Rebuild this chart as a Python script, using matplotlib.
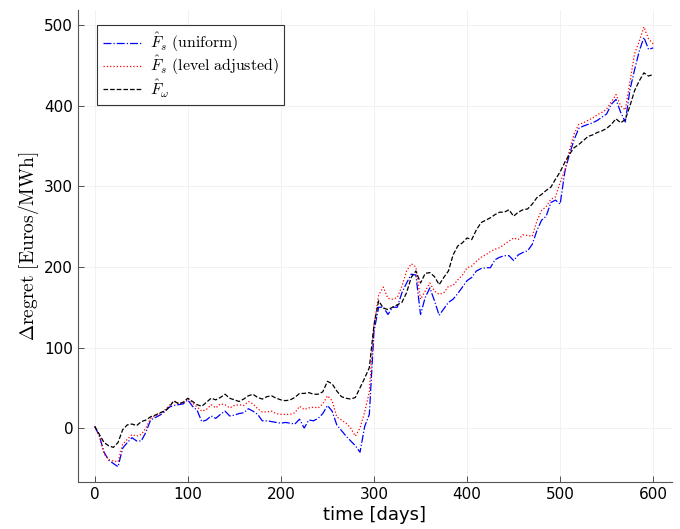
import numpy as np
import matplotlib
matplotlib.use('Agg')
import matplotlib.pyplot as plt

plt.rcParams['mathtext.fontset'] = 'cm'

# values read every 5 days
days = np.arange(0, 601, 5)

regret_uniform = [
    2, -10, -30, -40, -44, -48, -25, -18, -12, -16, -16, -5, 10, 13, 16, 20,
    26, 28, 29, 30, 35, 27, 22, 8, 10, 15, 12, 17, 21, 15, 16, 18, 19, 24, 21,
    17, 9, 9, 8, 7, 6, 7, 6, 5, 11, 0, 10, 9, 12, 18, 28, 21, 4, -3, -10, -16,
    -22, -30, 2, 17, 120, 150, 150, 141, 150, 150, 168, 180, 191, 190, 141,
    162, 174, 158, 140, 148, 156, 160, 167, 175, 183, 187, 195, 198, 199, 199,
    209, 212, 214, 214, 208, 215, 218, 220, 228, 245, 258, 263, 280, 283, 278,
    318, 340, 358, 372, 375, 377, 379, 382, 386, 390, 402, 408, 392, 380, 420,
    445, 468, 485, 470, 472]

regret_level = [
    2, -10, -32, -39, -41, -42, -20, -14, -8, -10, -8, 0, 12, 15, 18, 22, 28,
    33, 31, 31, 37, 31, 26, 21, 23, 29, 25, 30, 29, 25, 28, 29, 28, 33, 30, 24,
    20, 20, 21, 18, 17, 17, 17, 19, 27, 23, 25, 26, 25, 30, 40, 34, 14, 10, 6,
    0, -10, 0, 20, 45, 128, 165, 175, 161, 160, 162, 176, 195, 204, 200, 160,
    170, 180, 170, 166, 168, 176, 177, 184, 190, 199, 201, 207, 212, 215, 219,
    222, 224, 228, 232, 236, 234, 240, 239, 238, 257, 270, 275, 284, 287, 305,
    320, 345, 365, 377, 379, 382, 385, 389, 392, 396, 405, 414, 400, 395, 430,
    465, 480, 498, 483, 477]

regret_omega = [
    2, -8, -18, -22, -24, -18, -2, 4, 5, 3, 8, 10, 14, 16, 19, 21, 26, 34, 30,
    32, 37, 33, 29, 27, 32, 37, 35, 38, 42, 37, 35, 33, 36, 40, 42, 38, 36, 39,
    40, 37, 35, 34, 35, 38, 43, 43, 44, 42, 42, 45, 58, 55, 46, 39, 37, 36, 38,
    50, 62, 75, 128, 158, 149, 147, 150, 153, 156, 168, 187, 195, 180, 192,
    193, 188, 178, 187, 195, 215, 226, 230, 236, 234, 246, 255, 258, 261, 265,
    268, 268, 271, 263, 268, 271, 272, 278, 286, 290, 295, 299, 309, 318, 330,
    340, 348, 352, 357, 362, 364, 367, 369, 372, 377, 384, 379, 383, 400, 419,
    431, 441, 437, 439]

fig = plt.figure(figsize=(6.8, 5.29), dpi=100)
ax = fig.add_axes([0.1147, 0.0888, 0.8733, 0.8923])

ax.plot(days, regret_uniform, color='blue', linestyle='-.', linewidth=0.9,
        label=r'$\hat{F}_s\ \mathrm{(uniform)}$')
ax.plot(days, regret_level, color='red', linestyle=':', linewidth=0.9,
        label=r'$\hat{F}_s\ \mathrm{(level\ adjusted)}$')
ax.plot(days, regret_omega, color='black', linestyle='--', linewidth=0.9,
        label=r'$\hat{F}_\omega$')

ax.set_xlim(-18, 620)
ax.set_ylim(-67, 519)
ax.set_xticks(range(0, 601, 100))
ax.set_yticks(range(0, 501, 100))
ax.tick_params(direction='in', length=4, width=0.6, labelsize=11,
               color='#333333')
ax.grid(True, color='#efefef', linewidth=0.6)
ax.set_axisbelow(True)

for side in ['top', 'right']:
    ax.spines[side].set_visible(False)
for side in ['left', 'bottom']:
    ax.spines[side].set_color('#555555')
    ax.spines[side].set_linewidth(0.8)

ax.set_xlabel('time [days]', fontsize=13, labelpad=3)
ax.set_ylabel(r'$\Delta\mathrm{regret}\ [\mathrm{Euros/MWh}]$', fontsize=14,
              labelpad=2)

leg = ax.legend(loc='upper left', bbox_to_anchor=(0.032, 0.968),
                borderaxespad=0, fancybox=False, edgecolor='#333333',
                framealpha=1, fontsize=11.4, handlelength=2.5,
                handletextpad=0.5, labelspacing=0.0, borderpad=0.35)
leg.get_frame().set_linewidth(0.8)

fig.savefig('out.png', dpi=100)
